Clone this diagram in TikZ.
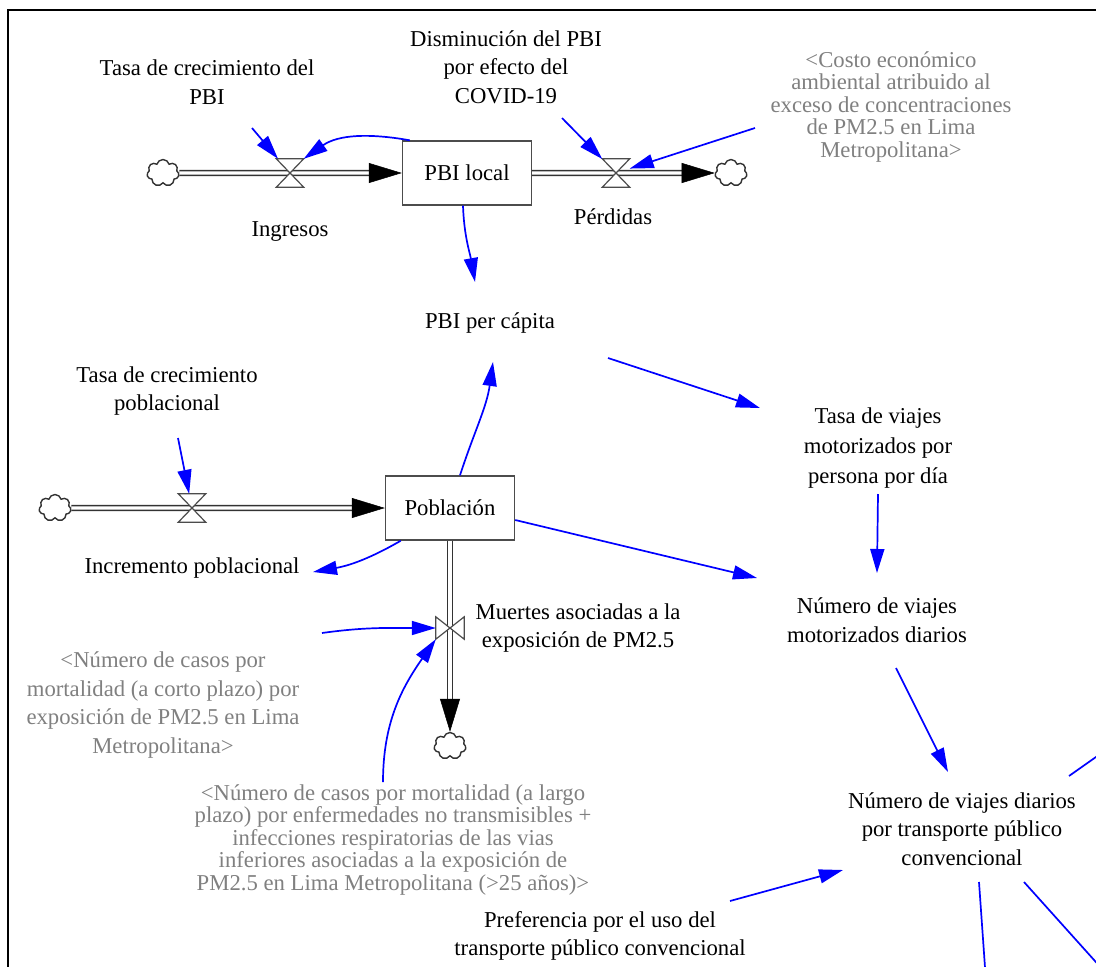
\documentclass[tikz,border=0pt]{standalone}
\usepackage{fontspec}
\setmainfont{Liberation Serif}
\usetikzlibrary{arrows.meta,shapes.symbols}

\tikzset{
  var/.style={align=center, inner sep=2pt, font=\fontsize{22.7}{28.5}\selectfont},
  shadowvar/.style={var, text=black!50, font=\fontsize{22.7}{22.5}\selectfont},
  stock/.style={draw=black!70, fill=white, line width=1.4pt, minimum width=129pt, minimum height=64pt, font=\fontsize{22.7}{28.5}\selectfont},
  cloudy/.style={cloud, cloud puffs=7, aspect=1.25, draw=black!80, fill=white, line width=1.4pt, minimum width=32pt, minimum height=27pt, inner sep=0pt},
  valvebox/.style={minimum width=27pt, minimum height=28pt, inner sep=0pt},
  valvetri/.style={fill=white, draw=black!70, line width=1.2pt},
  pipe/.style={draw=black!80, double=white, line width=1.5pt, double distance=3.4pt},
  flowhead/.style={black, line width=0.5pt, -{Triangle[length=33pt,width=20pt]}},
  link/.style={blue, line width=1.7pt, -{Triangle[length=24pt,width=14pt]}},
}

\begin{document}
\begin{tikzpicture}[x=1pt,y=1pt]
\useasboundingbox (0,0) rectangle (1096,-967);
\clip (0,0) rectangle (1096,-967);
\draw[line width=2pt] (8,-967) -- (8,-10) -- (1096,-10);

% stocks and flows
\node[stock] (pbi) at (467,-173) {PBI local};
\node[stock] (pob) at (450,-508) {Población};
\node[cloudy] (srcA) at (163,-173) {};
\node[cloudy] (sinkA) at (731,-173) {};
\node[cloudy] (srcB) at (55,-508) {};
\node[cloudy] (sinkB) at (450,-746) {};
\node[valvebox] (vin) at (290,-173) {};
\node[valvebox] (vout) at (616,-173) {};
\node[valvebox] (vpob) at (192,-508) {};
\node[valvebox, minimum width=28pt, minimum height=22pt] (vmu) at (450,-628) {};

\draw[pipe] (srcA) -- ([xshift=-30pt]pbi.west);
\draw[flowhead] ([xshift=-33pt]pbi.west) -- (pbi.west);
\draw[pipe] (pbi) -- ([xshift=-30pt]sinkA.west);
\draw[flowhead] ([xshift=-33pt]sinkA.west) -- (sinkA.west);
\draw[pipe] (srcB) -- ([xshift=-30pt]pob.west);
\draw[flowhead] ([xshift=-33pt]pob.west) -- (pob.west);
\draw[pipe] (pob) -- ([yshift=30pt]sinkB.north);
\draw[flowhead] ([yshift=33pt]sinkB.north) -- (sinkB.north);

\foreach \v in {vin,vout,vpob}
  \filldraw[valvetri] (\v.north west) -- (\v.north east) -- (\v.center) -- cycle
    (\v.south west) -- (\v.south east) -- (\v.center) -- cycle;
\filldraw[valvetri] (vmu.north west) -- (vmu.south west) -- (vmu.center) -- cycle
  (vmu.north east) -- (vmu.south east) -- (vmu.center) -- cycle;

% variables
\node[var] (tasapbi) at (207,-82) {Tasa de crecimiento del\\PBI};
\node[var] (covid) at (506,-67) {Disminución del PBI\\por efecto del\\COVID-19};
\node[shadowvar] (costo) at (891,-107) {<Costo económico\\ambiental atribuido al\\exceso de concentraciones\\de PM2.5 en Lima\\Metropolitana>};
\node[var] (ingresos) at (290,-232) {Ingresos};
\node[var] (perdidas) at (613,-217) {Pérdidas};
\node[var] (pbicap) at (490,-323) {PBI per cápita};
\node[var, font=\fontsize{22.7}{30}\selectfont] (tasaviajes) at (878,-448) {Tasa de viajes\\motorizados por\\persona por día};
\node[var] (numviajes) at (877,-620) {Número de viajes\\motorizados diarios};
\node[var] (numtp) at (962,-829) {Número de viajes diarios\\por transporte público\\convencional};
\node[var] (pref) at (600,-936) {Preferencia por el uso del\\transporte público convencional};
\node[var] (tasapob) at (167,-391) {Tasa de crecimiento\\poblacional};
\node[var] (incr) at (192,-568) {Incremento poblacional};
\node[var] (muertes) at (578,-628) {Muertes asociadas a la\\exposición de PM2.5};
\node[shadowvar, font=\fontsize{22.7}{28.5}\selectfont] (corto) at (163,-705) {<Número de casos por\\mortalidad (a corto plazo) por\\exposición de PM2.5 en Lima\\Metropolitana>};
\node[shadowvar] (largo) at (393,-840) {<Número de casos por mortalidad (a largo\\plazo) por enfermedades no transmisibles +\\infecciones respiratorias de las vias\\inferiores asociadas a la exposición de\\PM2.5 en Lima Metropolitana (>25 años)>};
\coordinate (outA) at (1130,-733);
\coordinate (outB) at (988,-1010);
\coordinate (outC) at (1130,-1000);

% links
\draw[link] ([shift={(45,-46)}]tasapbi.center) -- (vin);
\draw[link] ([xshift=8pt]pbi.north west) to[out=170,in=35] (vin.north east);
\draw[link] ([shift={(56,-51)}]covid.center) -- (vout);
\draw[link] ([shift={(-136,-21)}]costo.center) -- (vout);
\draw[link] ([xshift=-4pt]pbi.south) to[out=-88,in=100] ([shift={(-15,41)}]pbicap.center);
\draw[link] ([shift={(118,-35)}]pbicap.center) -- ([shift={(-118,40)}]tasaviajes.center);
\draw[link] ([yshift=-46pt]tasaviajes.center) -- ([yshift=47pt]numviajes.center);
\draw[link] ([yshift=-12pt]pob.east) -- ([shift={(-120,42)}]numviajes.center);
\draw[link] ([shift={(19,-48)}]numviajes.center) -- ([shift={(-14,57)}]numtp.center);
\draw[link] ([shift={(107,53)}]numtp.center) -- (outA);
\draw[link] ([shift={(17,-53)}]numtp.center) -- (outB);
\draw[link] ([shift={(62,-53)}]numtp.center) -- (outC);
\draw[link] ([shift={(130,35)}]pref.center) -- ([shift={(-119,-41)}]numtp.center);
\draw[link] ([shift={(11,-47)}]tasapob.center) -- (vpob);
\draw[link] ([xshift=10pt]pob.north) to[out=72,in=-98] ([shift={(3,-39)}]pbicap.center);
\draw[link] ([xshift=16pt]pob.south west) to[out=-150,in=10] ([shift={(121,-4)}]incr.center);
\draw[link] ([shift={(159,72)}]corto.center) to[out=8,in=180] (vmu.west);
\draw[link] ([shift={(-10,58)}]largo.center) to[out=90,in=-125] (vmu.south west);
\end{tikzpicture}
\end{document}
